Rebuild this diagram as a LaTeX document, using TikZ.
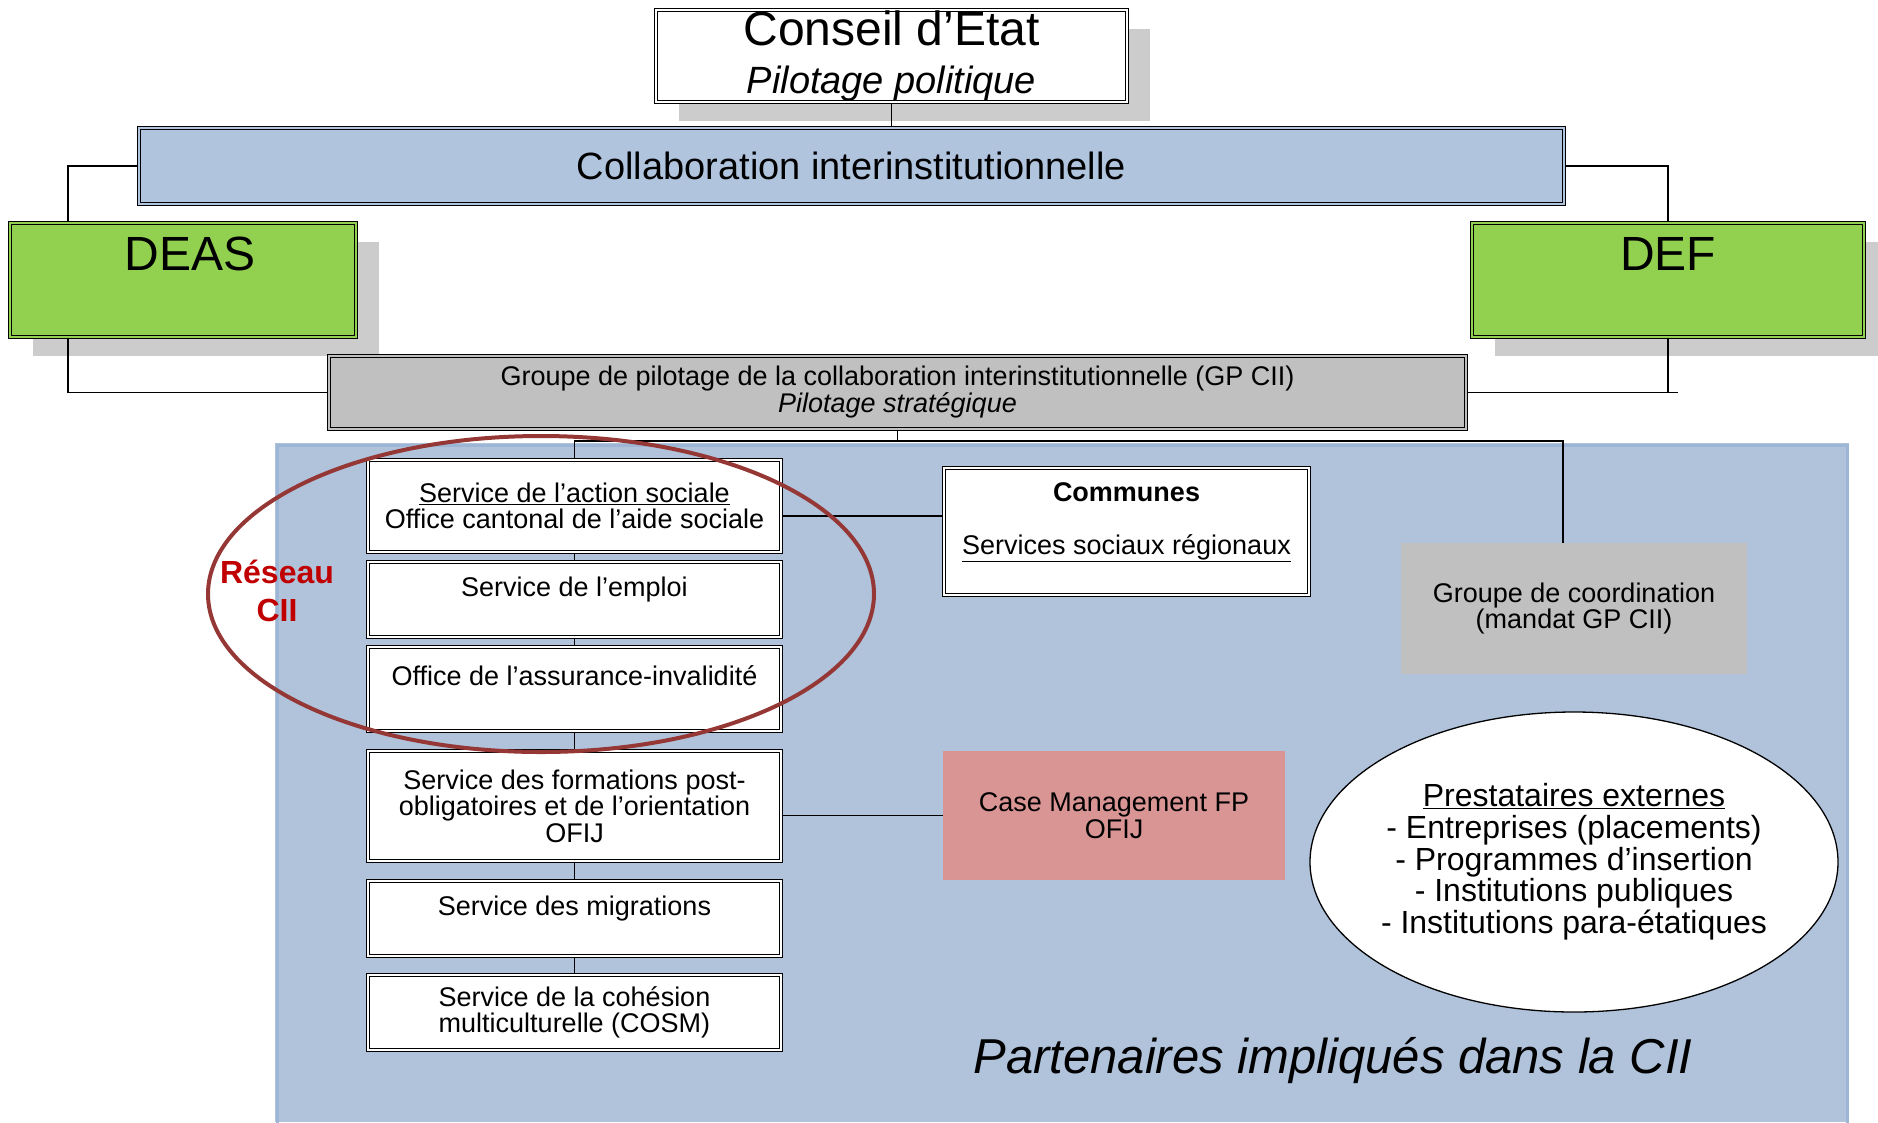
\documentclass[tikz,border=0pt]{standalone}
\usepackage{fontspec}
\setmainfont{Liberation Sans}
\usetikzlibrary{shapes.geometric,shadows}
\definecolor{bgblue}{HTML}{B0C3DB}
\definecolor{rimblue}{HTML}{9DB6D6}
\definecolor{ciiblue}{HTML}{B0C4DE}
\definecolor{dgreen}{HTML}{92D050}
\definecolor{gpgray}{HTML}{C0C0C0}
\definecolor{shadowgray}{HTML}{CCCCCC}
\definecolor{cmpink}{HTML}{D99594}
\definecolor{ringred}{HTML}{953735}
\definecolor{txtred}{HTML}{C00000}
\newcommand\fsz[2]{\fontsize{#1}{#2}\selectfont}
\tikzset{
  dbl/.style={draw, line width=1.3pt, double=#1, double distance=2pt, fill=#1, inner sep=0pt, align=center},
  dbl/.default=white,
  unit/.style={dbl, minimum width=413pt, font=\fsz{27}{26.5}},
  boxshadow/.style={drop shadow={shadow xshift=23pt, shadow yshift=-19pt, fill=shadowgray, opacity=1}},
  wire/.style={line width=1.4pt},
  flat/.style={fill=#1, inner sep=0pt, align=center, font=\fsz{27}{26.5}}
}
\begin{document}
\begin{tikzpicture}[x=1pt,y=-1pt]
\useasboundingbox (0,0) rectangle (1878,1122);
% panel of the partners
\fill[bgblue] (275,443) rectangle (1849,1122);
\draw[rimblue, line width=3pt] (277,445) rectangle (1847,1126);

% top of the chart
\node[dbl, boxshadow, minimum width=471pt, minimum height=92pt] (conseil) at (891.5,56)
  {\fsz{48}{49}Conseil d’Etat\\[19pt]\fsz{38}{49}\itshape Pilotage politique};
\node[dbl=ciiblue, minimum width=1425pt, minimum height=76pt, font=\fsz{38}{40}] (collab) at (851.5,166)
  {Collaboration interinstitutionnelle};
\node[dbl=dgreen, boxshadow, minimum width=346pt, minimum height=114pt, font=\fsz{48}{52}] (deas) at (183,280) {\hspace{14pt}DEAS\\\mbox{}};
\node[dbl=dgreen, boxshadow, minimum width=392pt, minimum height=114pt, font=\fsz{48}{52}] (def) at (1668,280) {DEF\\\mbox{}};
\node[dbl=gpgray, minimum width=1137pt, minimum height=73pt, font=\fsz{27}{27}] (gpcii) at (897.5,392.5)
  {Groupe de pilotage de la collaboration interinstitutionnelle (GP CII)\\\itshape Pilotage stratégique};

% services
\node[unit, minimum height=92pt] (sas) at (574.5,506) {\underline{Service de l’action sociale}\\Office cantonal de l’aide sociale};
\node[unit, minimum height=75pt] (emploi) at (574.5,599.5) {Service de l’emploi\\\mbox{}};
\node[unit, minimum height=84pt] (oai) at (574.5,689) {Office de l’assurance-invalidité\\\mbox{}};
\node[unit, minimum height=110pt] (sfpo) at (574.5,806) {Service des formations post-\\obligatoires et de l’orientation\\OFIJ};
\node[unit, minimum height=75pt] (smig) at (574.5,918.5) {Service des migrations\\\mbox{}};
\node[unit, minimum height=75pt] (cosm) at (574.5,1012.5) {Service de la cohésion\\multiculturelle (COSM)};

\node[unit, minimum width=365pt, minimum height=127pt] (communes) at (1126.5,531.5)
  {\textbf{Communes}\\\mbox{}\\\underline{Services sociaux régionaux}\\\mbox{}};
\node[flat=gpgray, minimum width=346pt, minimum height=131pt] (coord) at (1574,608.5) {Groupe de coordination\\(mandat GP CII)};
\node[flat=cmpink, minimum width=342pt, minimum height=129pt] (casemgmt) at (1114,815.5) {Case Management FP\\OFIJ};

\node[ellipse, draw, fill=white, line width=1.3pt, minimum width=528pt, minimum height=300pt] (presta) at (1574,862) {};
\node[align=center, font=\fsz{32}{31.7}] (prestatext) at (presta.center)
  {\underline{Prestataires externes}\\- Entreprises (placements)\\- Programmes d’insertion\\- Institutions publiques\\- Institutions para-étatiques};

\node[font=\fsz{49}{50}\itshape] (partenaires) at (1333,1061) {Partenaires impliqués dans la CII};

% connectors
\coordinate (deasline) at (68,0);
\coordinate (deftick) at (1678,0);
\coordinate (bus) at (0,441);
\draw[wire] (conseil.south) -- (conseil.south |- collab.north);
\draw[wire] (collab.west) -| (deasline |- deas.north);
\draw[wire] (deasline |- deas.south) |- (gpcii.west);
\draw[wire] (collab.east) -| (def.north);
\draw[wire] (def.south) -- (def.south |- gpcii.east);
\draw[wire] (gpcii.east) -- (deftick |- gpcii.east);
\draw[wire] (gpcii.south) -- (gpcii.south |- bus);
\draw[wire] (sas.north) |- ([xshift=-11pt]coord.north |- bus) -- ([xshift=-11pt]coord.north);
\foreach \a/\b in {sas/emploi, emploi/oai, oai/sfpo, sfpo/smig, smig/cosm}
  \draw[wire] (\a.south) -- (\b.north);
\draw[wire] ([yshift=-10pt]sas.east) -- ([yshift=-10pt]sas.east -| communes.west);
\draw[wire] (casemgmt.west -| sfpo.east) -- (casemgmt.west);

% reseau CII
\node[font=\fsz{32}{38}\bfseries, text=txtred, align=center] (reseau) at (277,591) {Réseau\\CII};
\node[ellipse, draw=ringred, line width=4pt, minimum width=666pt, minimum height=316pt, inner sep=0pt] (ring) at (541,594) {};
\end{tikzpicture}
\end{document}
